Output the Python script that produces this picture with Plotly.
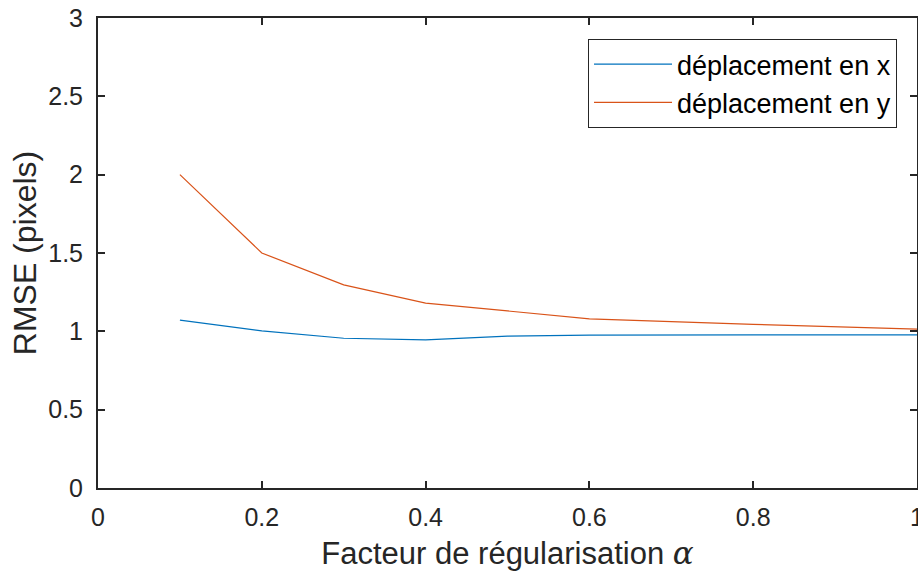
import plotly.graph_objects as go

alpha = [0.1, 0.2, 0.3, 0.4, 0.5, 0.6, 0.8, 1.0]
rmse_x = [1.071, 1.003, 0.956, 0.946, 0.969, 0.976, 0.978, 0.978]
rmse_y = [2.0, 1.5, 1.297, 1.18, 1.13, 1.08, 1.045, 1.014]
names = ["déplacement en x", "déplacement en y"]
xticks = [0, 0.2, 0.4, 0.6, 0.8, 1]
xticklabels = ["0", "0.2", "0.4", "0.6", "0.8", "1"]
yticks = [0, 0.5, 1, 1.5, 2, 2.5, 3]
yticklabels = ["0", "0.5", "1", "1.5", "2", "2.5", "3"]

FONT = "Liberation Sans, Arial"

fig = go.Figure()
fig.add_trace(go.Scatter(x=alpha, y=rmse_x, mode="lines", name=names[0],
                         line=dict(color="#0072BD", width=1.2)))
fig.add_trace(go.Scatter(x=alpha, y=rmse_y, mode="lines", name=names[1],
                         line=dict(color="#D95319", width=1.2)))

axis_common = dict(showgrid=False, zeroline=False, showline=True, linecolor="#262626",
                   linewidth=2, ticks="inside", ticklen=7, tickwidth=1.5, tickcolor="#262626",
                   mirror="ticks", automargin=False, ticklabeloverflow="allow",
                   tickfont=dict(family=FONT, size=25, color="#262626"))

fig.update_layout(
    width=918, height=571,
    margin=dict(l=98, r=1, t=18, b=83),
    paper_bgcolor="white", plot_bgcolor="white",
    font=dict(family=FONT, color="#262626"),
    xaxis=dict(range=[0, 1], tickvals=xticks, ticktext=xticklabels, ticklabelstandoff=6,
               title=dict(text="Facteur de régularisation <i><span style='font-family:DejaVu Serif'>α</span></i>",
                          font=dict(size=31, color="#262626"), standoff=14),
               **axis_common),
    yaxis=dict(range=[0, 3], tickvals=yticks, ticktext=yticklabels, ticklabelstandoff=8,
               title=dict(text="RMSE (pixels)", font=dict(size=32, color="#262626"), standoff=2),
               **axis_common),
    legend=dict(x=0.9756, y=0.955, xanchor="right", yanchor="top",
                bordercolor="#262626", borderwidth=1, bgcolor="white",
                font=dict(family=FONT, size=27, color="#000000"),
                itemwidth=78, tracegroupgap=0),
    showlegend=True,
)

fig.write_html("out.html", config={"displayModeBar": False},
               post_script="document.body.style.margin='0';document.body.style.overflow='hidden';")
